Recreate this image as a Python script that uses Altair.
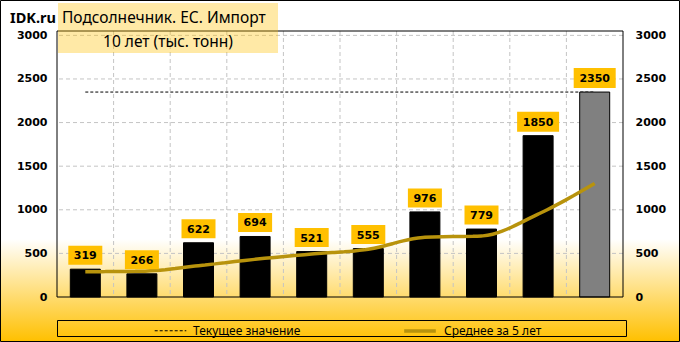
import altair as alt
import pandas as pd

# ---------------- data ----------------
years = ["2013", "2014", "2015", "2016", "2017", "2018", "2019", "2020", "2021", "2022"]
imports = [319, 266, 622, 694, 521, 555, 976, 779, 1850, 2350]
avg5 = [290, 295, 359, 432, 493, 547, 685, 700, 950, 1302]
current_value = 2350
series_names = ["Текущее значение", "Среднее за 5 лет"]
y_ticks = [0, 500, 1000, 1500, 2000, 2500, 3000]
brand = "IDK.ru"
title_main = "Подсолнечник. ЕС. Импорт"
title_sub = "10 лет (тыс. тонн)"

# ---------------- layout ----------------
W, H = 566, 266
PAD = {"left": 57, "top": 31, "right": 57, "bottom": 45}
GOLD = "#FFC000"
LINE_GOLD = "#B8930C"

bars_df = pd.DataFrame({"year": years, "value": imports, "label": [str(v) for v in imports]})
bars_df["digits"] = bars_df["label"].str.len().astype(str)
avg_df = pd.DataFrame({"year": years, "value": avg5, "series": series_names[1]})
cur_df = pd.DataFrame({"year": years, "value": [current_value] * len(years), "series": series_names[0]})
grid_y_df = pd.DataFrame({"v": y_ticks[1:]})
grid_x_df = pd.DataFrame({"year": years[1:]})
one = pd.DataFrame({"k": [0]})

xscale = alt.Scale(type="band", domain=years, paddingInner=0, paddingOuter=0)
yscale = alt.Scale(domain=[0, 3050], nice=False, zero=True)

# background gradient + outer border
background = alt.Chart(one).mark_rect(
    fill=alt.LinearGradient(
        gradient="linear",
        stops=[alt.GradientStop(offset=0, color="white"),
               alt.GradientStop(offset=0.70, color="white"),
               alt.GradientStop(offset=1, color=GOLD)],
        x1=0, x2=0, y1=0, y2=1),
    stroke="black", strokeWidth=1,
).encode(
    x=alt.value(-PAD["left"] + 0.5), x2=alt.value(W + PAD["right"] - 0.5),
    y=alt.value(-PAD["top"] + 0.5), y2=alt.value(H + PAD["bottom"] - 0.5),
)

axis_common = dict(grid=False, domain=False, ticks=False, labelFont="DejaVu Sans", labelFontWeight="bold",
                   labelColor="black", title=None, zindex=2)

grid_h = alt.Chart(grid_y_df).mark_rule(color="#C4C4C4", strokeDash=[4, 3], strokeWidth=1).encode(
    y=alt.Y("v:Q", scale=yscale,
            axis=alt.Axis(orient="left", values=y_ticks, format="d", labelFontSize=11, labelPadding=10,
                          **axis_common)),
)

grid_v = alt.Chart(grid_x_df).mark_rule(color="#C4C4C4", strokeDash=[4, 3], strokeWidth=1).encode(
    x=alt.X("year:N", scale=xscale, bandPosition=0, axis=None),
)

legend = alt.Legend(title=None, orient="none", legendX=97, legendY=282, direction="horizontal",
                    symbolType="stroke", symbolSize=1000, labelFont="Noto Sans", labelFontSize=12,
                    labelColor="black", columnPadding=96, labelOffset=6, padding=0)

def line_enc():
    return dict(
        color=alt.Color("series:N", scale=alt.Scale(domain=series_names, range=["black", LINE_GOLD]), legend=legend),
        strokeDash=alt.StrokeDash("series:N", scale=alt.Scale(domain=series_names, range=[[3, 2], [10, 0]]), legend=legend),
        strokeWidth=alt.StrokeWidth("series:N", scale=alt.Scale(domain=series_names, range=[1, 3.5]), legend=legend),
    )

cur_line = alt.Chart(cur_df).mark_line().encode(
    x=alt.X("year:N", scale=xscale, axis=None),
    y=alt.Y("value:Q", scale=yscale, axis=None),
    **line_enc(),
)

bars = alt.Chart(bars_df).mark_bar(width=alt.RelativeBandSize(0.53), stroke="black", strokeWidth=1).encode(
    x=alt.X("year:N", scale=xscale,
            axis=alt.Axis(orient="bottom", labelAngle=0, labelFontSize=10, labelPadding=9, **axis_common)),
    y=alt.Y("value:Q", scale=yscale,
            axis=alt.Axis(orient="right", values=y_ticks, format="d", labelFontSize=11, labelPadding=12,
                          **axis_common)),
    color=alt.condition(alt.datum.year == "2022", alt.value("#808080"), alt.value("black")),
)

avg_line = alt.Chart(avg_df).mark_line(interpolate="monotone").encode(
    x=alt.X("year:N", scale=xscale, axis=None),
    y=alt.Y("value:Q", scale=yscale, axis=None),
    **line_enc(),
)

path3 = "M-17,-9.5H17V9.5H-17Z"
path4 = "M-21,-10H21V10H-21Z"
label_boxes = alt.Chart(bars_df).mark_point(size=4, filled=True, fill=GOLD, opacity=1, fillOpacity=1,
                                            strokeWidth=0, yOffset=-14).encode(
    x=alt.X("year:N", scale=xscale, axis=None),
    y=alt.Y("value:Q", scale=yscale, axis=None),
    shape=alt.Shape("digits:N", scale=alt.Scale(domain=["3", "4"], range=[path3, path4]), legend=None),
)
label_text = alt.Chart(bars_df).mark_text(font="DejaVu Sans", fontWeight="bold", fontSize=11, color="black",
                                          baseline="middle", yOffset=-13).encode(
    x=alt.X("year:N", scale=xscale, axis=None),
    y=alt.Y("value:Q", scale=yscale, axis=None),
    text="label:N",
)

plot_border = alt.Chart(one).mark_rect(fillOpacity=0, stroke="black", strokeWidth=1).encode(
    x=alt.value(0), x2=alt.value(W), y=alt.value(0), y2=alt.value(H),
)
legend_box = alt.Chart(one).mark_rect(fillOpacity=0, stroke="black", strokeWidth=1).encode(
    x=alt.value(0.5), x2=alt.value(569.5), y=alt.value(289.5), y2=alt.value(305.5),
)

title_box = alt.Chart(one).mark_rect(fill=GOLD, opacity=0.35).encode(
    x=alt.value(1), x2=alt.value(221), y=alt.value(-28), y2=alt.value(22),
)
brand_text = alt.Chart(one).mark_text(font="Noto Sans", fontWeight="bold", fontSize=14.5, color="black",
                                      align="left", baseline="alphabetic").encode(
    x=alt.value(-47), y=alt.value(-8.5), text=alt.value(brand))
main_text = alt.Chart(one).mark_text(font="Noto Sans", fontSize=15.5, color="black",
                                     align="left", baseline="alphabetic").encode(
    x=alt.value(5), y=alt.value(-8.5), text=alt.value(title_main))
sub_text = alt.Chart(one).mark_text(font="Noto Sans", fontSize=15.5, color="black",
                                    align="center", baseline="alphabetic").encode(
    x=alt.value(111), y=alt.value(15.5), text=alt.value(title_sub))

chart = alt.layer(
    background, grid_h, grid_v, cur_line, bars, avg_line, label_boxes, label_text,
    plot_border, legend_box, title_box, brand_text, main_text, sub_text,
).resolve_axis(y="independent").properties(
    width=W, height=H,
    autosize=alt.AutoSizeParams(type="none"),
    padding=PAD,
).configure_view(stroke=None)

chart.save("out.html", embed_options={"renderer": "svg", "actions": False})
